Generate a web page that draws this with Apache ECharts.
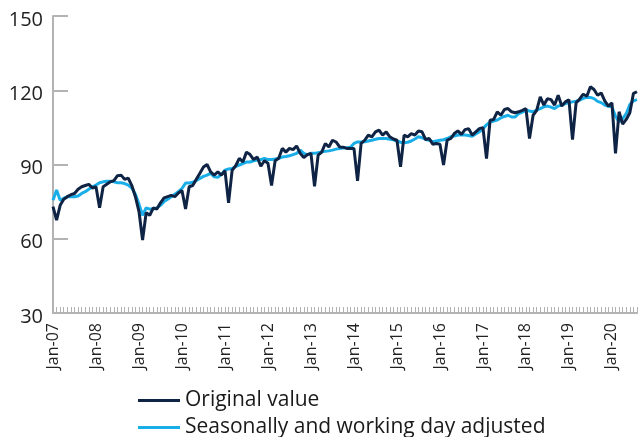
<!DOCTYPE html>
<html>
<head>
<meta charset="utf-8">
<script src="https://cdn.jsdelivr.net/npm/echarts@6/dist/echarts.min.js"></script>
<style>
  html, body { margin: 0; padding: 0; background: #fff; }
  #chart { width: 640px; height: 437px; }
</style>
</head>
<body>
<div id="chart"></div>
<script>
// month labels, Jan-07 .. Aug-20
const monthNames = ["Jan", "Feb", "Mar", "Apr", "May", "Jun", "Jul", "Aug", "Sep", "Oct", "Nov", "Dec"];
const firstYear = 2007;
const lastYear = 2020;
const lastMonth = 8;

// Original value, one row per year
const originalValue = [
  73, 67.5, 73.5, 76, 77, 77.8, 78.3, 80, 81, 81.5, 82, 80.5,
  81, 72.5, 81, 82, 83, 83.5, 85.5, 85.7, 84, 84.5, 81.5, 77,
  71, 59.5, 70.5, 69.5, 72.5, 72, 74.5, 76.5, 77, 77.5, 77, 78.5,
  79.5, 72, 81, 81.5, 84, 86.5, 89, 90, 87, 85.7, 87, 85.7,
  87.5, 74.5, 87.7, 89.5, 92.5, 91, 95, 94, 92, 93, 89.3, 91.5,
  90.5, 81.5, 91.5, 92.5, 96.5, 95, 96.5, 96, 97.5, 94.5, 92.8, 94,
  94.5, 81.2, 93.8, 95, 98.5, 97.1, 99.8, 99.1, 97.1, 97, 96.5, 96.5,
  96.5, 83.4, 98.5, 99.8, 101.9, 101.2, 103.2, 103.9, 101.9, 103.2, 101.2, 100.3,
  99.8, 89.1, 101.9, 101.2, 102.5, 101.9, 103.5, 103.2, 100.1, 100.5, 98.2, 98.5,
  98.2, 89.8, 99.8, 100.5, 102.5, 103.6, 102.2, 104.1, 104.5, 101.9, 103.2, 104.5,
  104.9, 92.4, 107.9, 108.2, 111.3, 109.9, 112.2, 112.6, 111.3, 110.9, 111.3, 111.9,
  112.6, 100.5, 109.9, 111.9, 117.3, 114, 116.6, 116.2, 114, 118, 113.6, 115.3,
  116.2, 100.1, 114.9, 116.5, 118.4, 117.6, 121.4, 120.3, 118, 118.9, 115.7, 113.6,
  114.9, 94.5, 111.3, 106.3, 108.2, 110.9, 118.7, 119.4
];

// Seasonally and working day adjusted
const adjustedValue = [
  75.6, 79.7, 75.6, 76.3, 77, 77, 77, 77.3, 78.3, 79, 80, 81,
  81.7, 82.6, 83, 83.2, 83.2, 83, 82.6, 82.6, 82.3, 81.7, 80.5, 78,
  74, 69.5, 72.5, 72, 72, 72.5, 73.5, 75, 76, 77, 78, 79,
  80.3, 82.5, 82.5, 82.8, 83.5, 84.4, 85.2, 85.7, 86.4, 85, 84.8, 86,
  87.7, 88.2, 88.4, 89.2, 89.8, 90.4, 91, 91, 91.5, 91.8, 92, 92.5,
  92, 92, 92.2, 92.5, 93, 93.2, 93.5, 94, 94.5, 95.8, 94.5, 94,
  94.5, 94.5, 94.8, 95.1, 95.3, 95.5, 95.8, 96.2, 96.5, 96.7, 96.8, 97,
  98.5, 99.1, 99.1, 99.2, 99.5, 99.8, 100.2, 100.5, 100.5, 100.5, 100.2, 100,
  99.5, 99, 98.8, 99, 99.5, 100.3, 101.2, 100.8, 100.1, 99.8, 99.2, 99.5,
  99.8, 100, 100.5, 101.2, 101.5, 101.9, 101.9, 101.9, 101.7, 101.4, 102.3, 103.2,
  104.5, 106, 107.2, 107.6, 108, 108.8, 109.4, 109.9, 109.2, 109.2, 110.6, 111.2,
  111.9, 111.6, 111.3, 112, 112.6, 113.3, 113.6, 113.2, 112.6, 113.6, 114, 114.6,
  115, 115.3, 115.6, 116, 116.7, 117.1, 117.1, 116.6, 115.5, 115, 114, 113.5,
  113.3, 109.5, 107.2, 108.5, 110.6, 114.2, 115.7, 116.2
];

const yMin = 30;
const yMax = 150;
const yStep = 30;

const categories = [];
for (let y = firstYear; y <= lastYear; y++) {
  const last = y === lastYear ? lastMonth : 12;
  for (let m = 0; m < last; m++) {
    categories.push(monthNames[m] + "-" + String(y).slice(2));
  }
}

const font = "'Open Sans', 'Noto Sans', sans-serif";
const axisGrey = "#b3b3b3";
const navy = "#0f2444";
const cyan = "#19aee8";

const legendBase = {
  left: 133,
  icon: "rect",
  itemWidth: 42,
  itemHeight: 3,
  selectedMode: false,
  textStyle: {
    fontFamily: font,
    fontSize: 21,
    color: "#1a1a1a",
  },
};

const chart = echarts.init(document.getElementById("chart"));

chart.setOption({
  animation: false,
  backgroundColor: "#fff",
  grid: {
    left: 53,
    right: 3,
    top: 16,
    bottom: 124,
  },
  legend: [
    Object.assign({}, legendBase, { data: ["Original value"], top: 385 }),
    Object.assign({}, legendBase, { data: ["Seasonally and working day adjusted"], top: 412 }),
  ],
  xAxis: {
    type: "category",
    data: categories,
    boundaryGap: false,
    axisLine: {
      lineStyle: { color: axisGrey, width: 2 },
    },
    axisTick: {
      inside: true,
      interval: 0,
      length: 6,
      lineStyle: { color: axisGrey, width: 1 },
    },
    axisLabel: {
      interval: 11,
      rotate: 90,
      margin: 10,
      fontFamily: font,
      fontSize: 16,
      color: "#222",
    },
  },
  yAxis: {
    type: "value",
    min: yMin,
    max: yMax,
    interval: yStep,
    splitLine: { show: false },
    axisLine: {
      show: true,
      lineStyle: { color: axisGrey, width: 2 },
    },
    axisTick: {
      show: true,
      inside: true,
      length: 15,
      lineStyle: { color: axisGrey, width: 2 },
    },
    axisLabel: {
      margin: 10,
      fontFamily: font,
      fontSize: 20,
      color: "#222",
      verticalAlign: "top",
      lineHeight: 8,
    },
  },
  series: [
    {
      name: "Seasonally and working day adjusted",
      type: "line",
      data: adjustedValue,
      showSymbol: false,
      z: 2,
      color: cyan,
      lineStyle: { width: 3, color: cyan },
    },
    {
      name: "Original value",
      type: "line",
      data: originalValue,
      showSymbol: false,
      z: 3,
      color: navy,
      lineStyle: { width: 3, color: navy },
    },
  ],
});
</script>
</body>
</html>
